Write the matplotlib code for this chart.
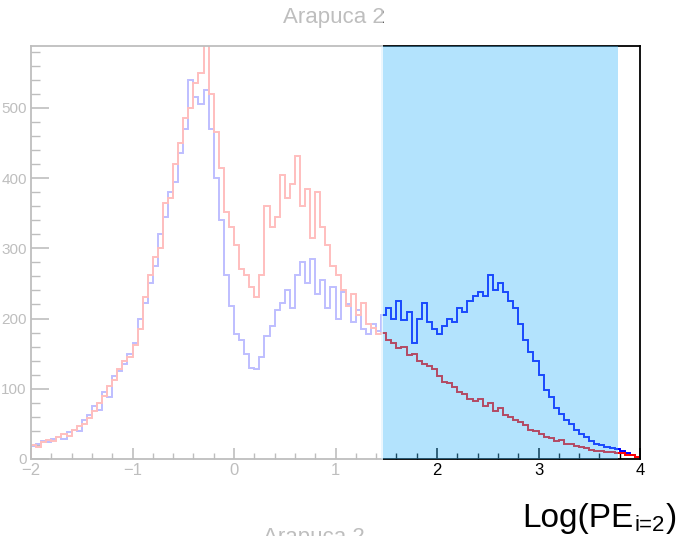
import matplotlib
matplotlib.use("Agg")
import matplotlib.pyplot as plt
import numpy as np
from matplotlib.patches import Rectangle

plt.rcParams["font.family"] = ["Liberation Sans", "DejaVu Sans"]

# histogram binning: 120 bins of 0.05 from -2 to 4 (Log PE)
bin_lo, bin_hi = -2.0, 4.0

# blue histogram (second Arapuca channel)
blue_counts = [
    18, 22, 26, 24, 29, 32, 28, 38, 42, 40,
    55, 62, 75, 70, 95, 88, 118, 125, 135, 150,
    165, 200, 222, 250, 275, 320, 345, 380, 395, 435,
    470, 540, 515, 505, 525, 470, 400, 340, 262, 218,
    178, 170, 150, 130, 128, 145, 175, 190, 212, 222,
    240, 215, 262, 280, 250, 285, 235, 255, 215, 245,
    200, 238, 220, 195, 212, 185, 178, 192, 182, 205,
    215, 200, 225, 198, 210, 165, 200, 222, 195, 185,
    178, 190, 200, 195, 215, 210, 225, 232, 238, 232,
    262, 240, 250, 238, 225, 215, 192, 170, 152, 140,
    120, 98, 88, 72, 64, 56, 50, 42, 36, 32,
    26, 22, 20, 17, 15, 14, 11, 8, 5, 3,
]

# red histogram
red_counts = [
    20, 17, 24, 27, 26, 31, 36, 33, 41, 47,
    50, 58, 68, 80, 90, 104, 112, 128, 140, 145,
    162, 185, 230, 262, 288, 300, 365, 372, 420, 450,
    485, 500, 535, 550, 600, 520, 465, 415, 352, 330,
    305, 270, 262, 245, 230, 262, 360, 330, 345, 405,
    372, 392, 432, 360, 385, 315, 380, 330, 305, 275,
    262, 240, 218, 235, 205, 222, 192, 186, 178, 180,
    170, 165, 158, 160, 148, 150, 140, 135, 132, 128,
    118, 110, 108, 102, 95, 92, 86, 82, 85, 76,
    80, 68, 72, 62, 60, 56, 52, 48, 42, 40,
    36, 32, 30, 26, 27, 22, 21, 18, 17, 15,
    13, 12, 11, 10, 10, 9, 8, 6, 5, 3,
]

# highlighted window on the x axis
band_lo, band_hi = 1.45, 3.78

edges = np.linspace(bin_lo, bin_hi, len(blue_counts) + 1)

W, H = 678, 536
fig = plt.figure(figsize=(W / 100, H / 100), dpi=100)
ax = fig.add_axes([31 / W, (H - 459) / H, (640 - 31) / W, (459 - 46) / H])

ax.stairs(blue_counts, edges, color="#0000ff", lw=1.4, zorder=2)
ax.stairs(red_counts, edges, color="#ff0000", lw=1.4, zorder=2.1)

ax.set_xlim(bin_lo, bin_hi)
ax.set_ylim(0, 588)

ax.set_xticks(np.arange(-2, 4.01, 1))
ax.set_xticks(np.arange(-2, 4.01, 0.2), minor=True)
ax.set_xticklabels(["\u22122", "\u22121", "0", "1", "2", "3", "4"])
ax.set_yticks(np.arange(0, 501, 100))
ax.set_yticks(np.arange(0, 588, 20), minor=True)

ax.tick_params(axis="x", which="major", direction="in", length=8, width=1.2,
               labelsize=12, pad=3, top=False)
ax.tick_params(axis="x", which="minor", direction="in", length=4, width=1.0, top=False)
ax.tick_params(axis="y", which="major", direction="in", length=13, width=1.2,
               labelsize=11, pad=3, right=False)
ax.tick_params(axis="y", which="minor", direction="in", length=6.5, width=1.0, right=False)
for s in ax.spines.values():
    s.set_linewidth(1.3)
    s.set_color("black")

# translucent light-blue window laid over the histograms
ax.add_patch(Rectangle((band_lo, 0), band_hi - band_lo, 588, facecolor=(65 / 255, 185 / 255, 250 / 255),
                       alpha=0.4, edgecolor="none", zorder=3, clip_on=False))

fig.text(334 / W, 1 - 18 / H, "Arapuca 2", ha="center", va="center", fontsize=16, color="black")
fig.text(314 / W, (H - 527) / H, "Arapuca 2", ha="center", va="top", fontsize=16, color="black")

# fade everything left of the window
fig.patches.append(Rectangle((0, 0), 383 / W, 1, transform=fig.transFigure,
                             facecolor="white", alpha=0.75, edgecolor="none", zorder=10))

# x-axis title with a small subscript, built from pieces
t1 = fig.text(522 / W, (H - 527) / H, "Log(PE", ha="left", va="baseline",
              fontsize=24, color="black", zorder=11)
t2 = fig.text(0, 0, "i=2", fontsize=16, color="black", zorder=11)
t3 = fig.text(0, 0, ")", fontsize=24, color="black", zorder=11)
fig.canvas.draw()
r = fig.canvas.get_renderer()
bb1 = t1.get_window_extent(r)
t2.set_position(((bb1.x1 + 1) / W, (H - 531) / H))
t2.set_va("baseline")
bb2 = t2.get_window_extent(r)
t3.set_position(((bb2.x1 + 1) / W, (H - 527) / H))
t3.set_va("baseline")

fig.savefig("out.png", dpi=100)
